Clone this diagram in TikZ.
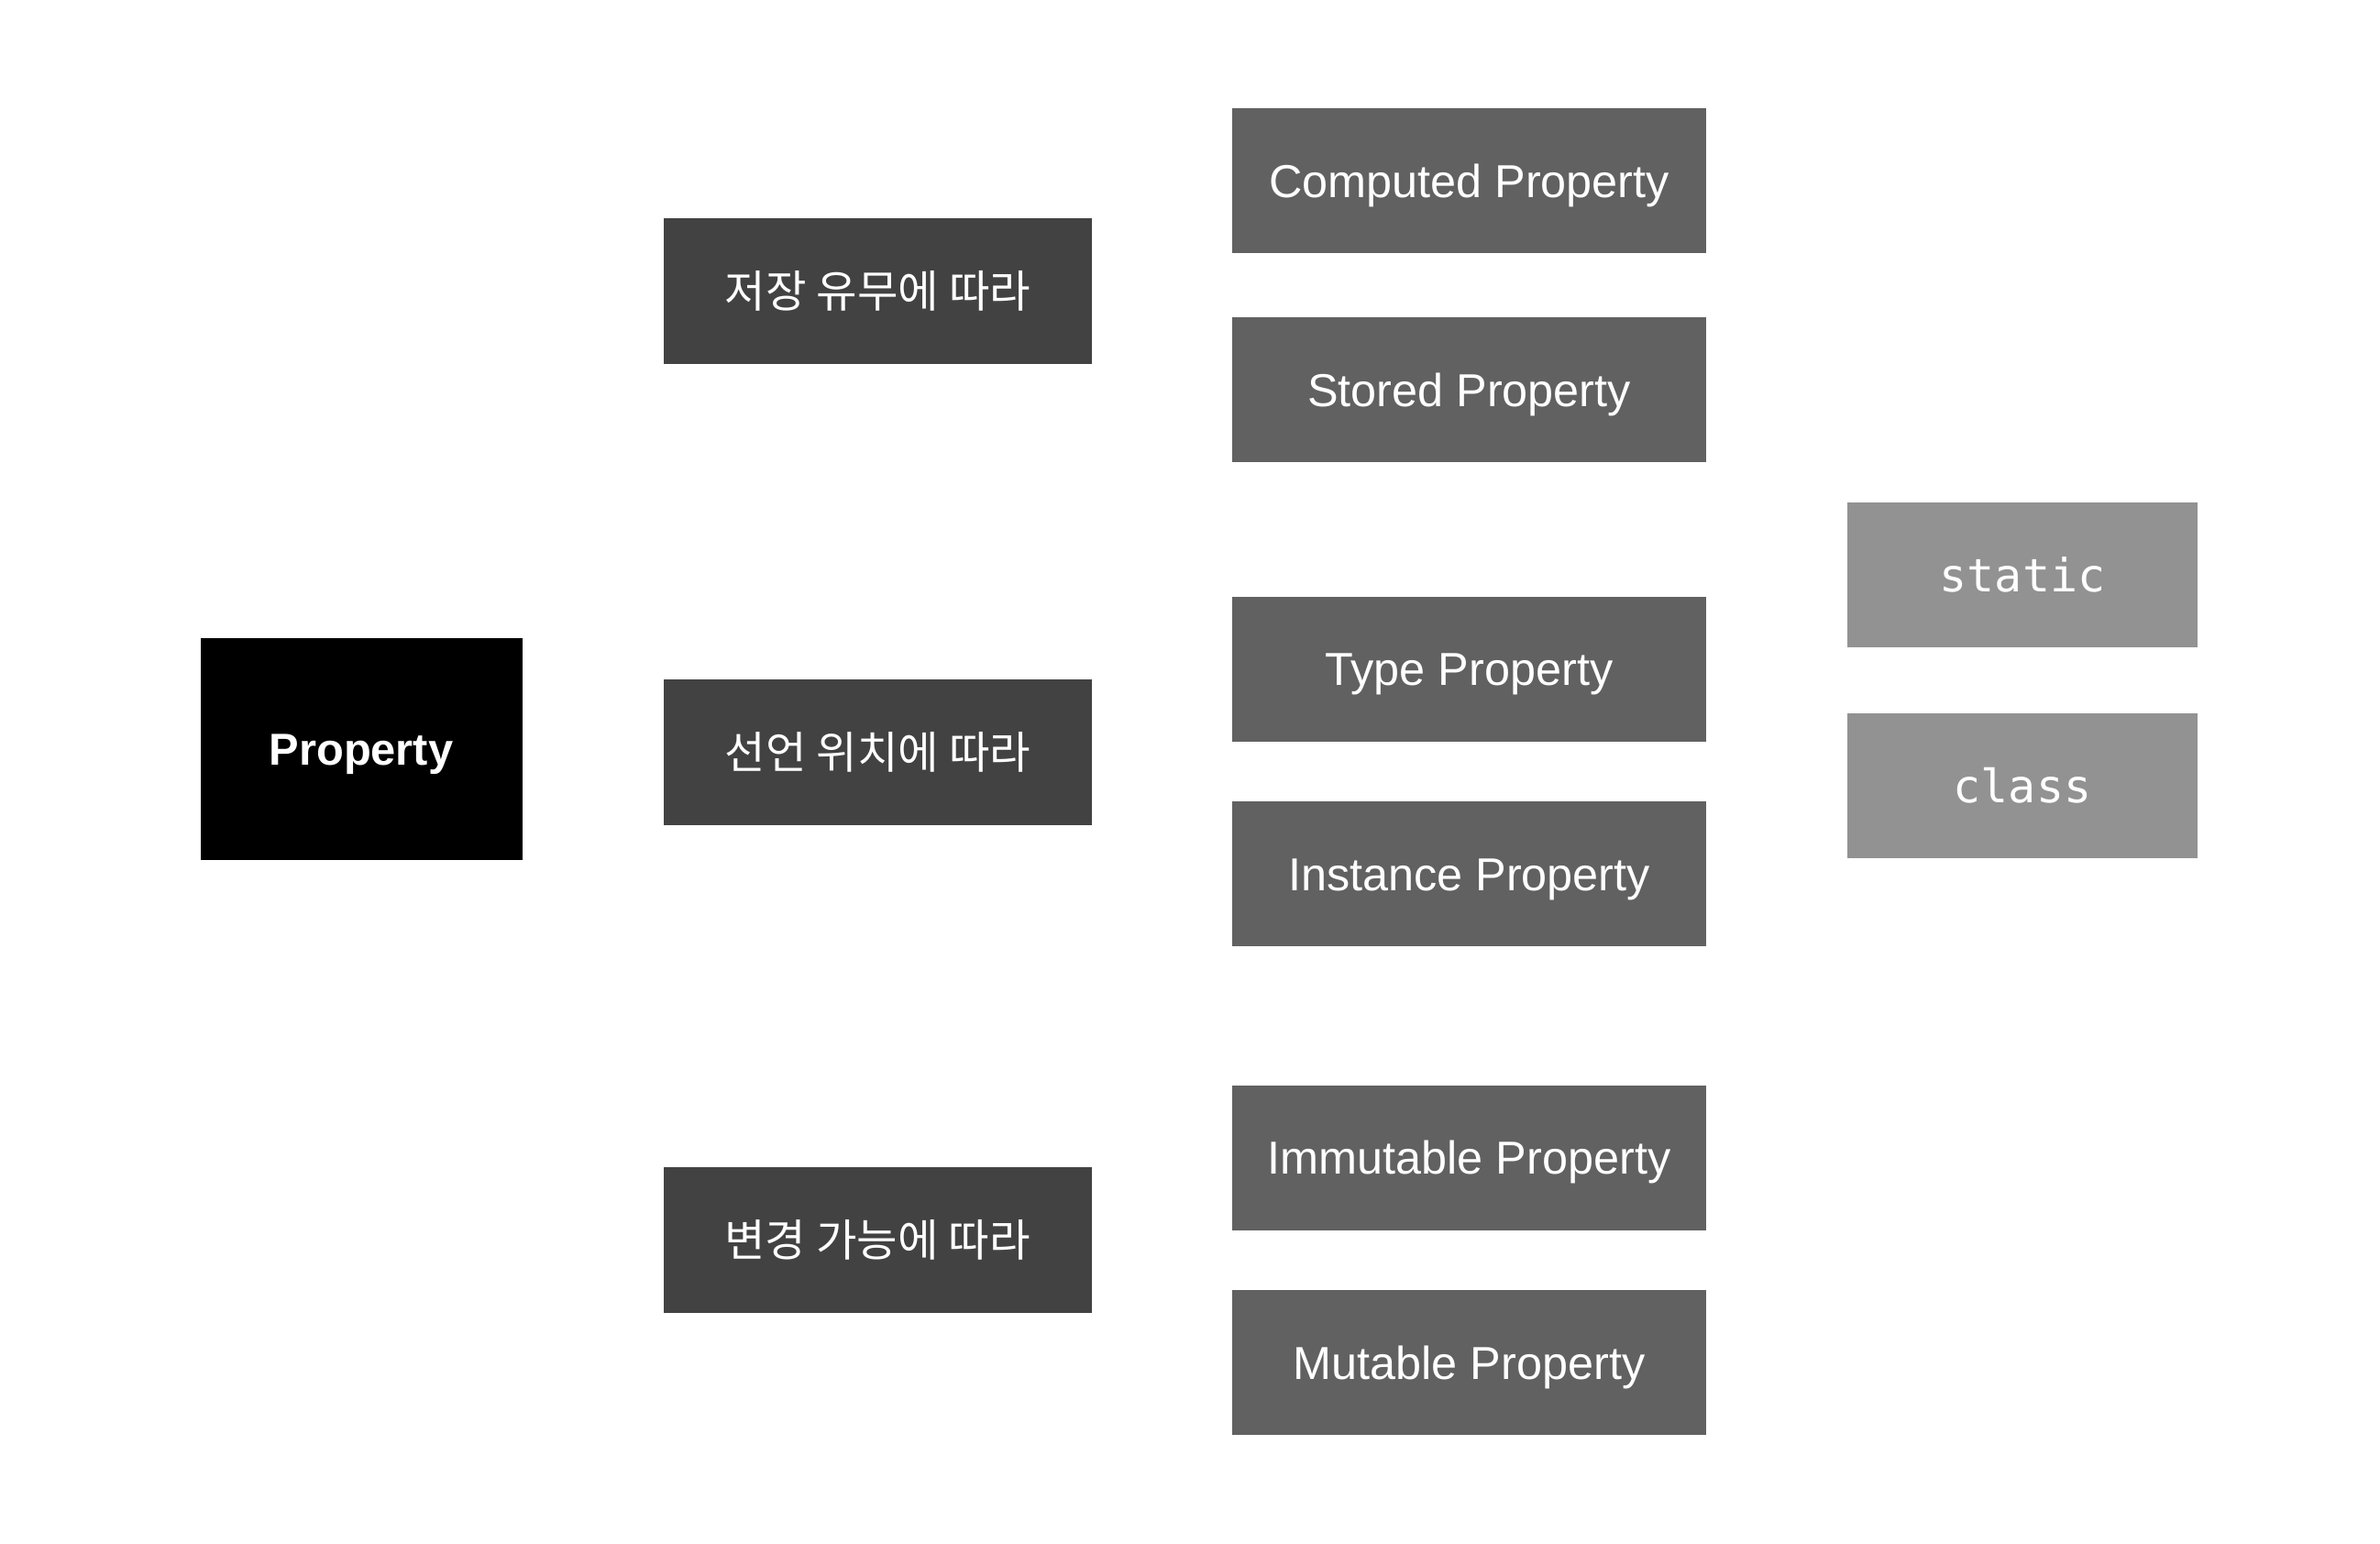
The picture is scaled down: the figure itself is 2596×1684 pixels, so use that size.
\documentclass[tikz,border=0pt]{standalone}
\usepackage{fontspec}
\setmainfont{Liberation Sans}
\newfontfamily\krfont{Noto Sans CJK KR}
\newfontfamily\monofont{DejaVu Sans Mono}
\definecolor{cA}{HTML}{000000}
\definecolor{cB}{HTML}{424242}
\definecolor{cC}{HTML}{616161}
\definecolor{cD}{HTML}{929292}
\begin{document}
\begin{tikzpicture}[x=0.25pt,y=-0.25pt,
  box/.style={rectangle,inner sep=0pt,text=white,draw=none},
  rootbox/.style={box,fill=cA,minimum width=87.75pt,minimum height=60.5pt,text height=8.75pt,text depth=0pt,font=\fontsize{12.2}{14}\selectfont\bfseries},
  catbox/.style={box,fill=cB,minimum width=116.75pt,minimum height=39.75pt,font=\krfont\fontsize{12.1}{14}\selectfont},
  kindbox/.style={box,fill=cC,minimum width=129.25pt,minimum height=39.5pt,text height=9.02pt,text depth=0pt,font=\fontsize{12.6}{15}\selectfont},
  kwbox/.style={box,fill=cD,minimum width=95.5pt,minimum height=39.5pt,font=\monofont\fontsize{12.5}{14}\selectfont}]
\fill[white] (0,0) rectangle (2596,1684);
\useasboundingbox (0,0) rectangle (2596,1684);
\node[rootbox] (prop) at (394,817) {Property};
\node[catbox] (storage) at (957.5,317.5) {저장 유무에 따라};
\node[catbox] (decl) at (957.5,820.5) {선언 위치에 따라};
\node[catbox] (mut) at (957,1352) {변경 가능에 따라};
\node[kindbox] (computed) at (1602.5,197) {Computed Property};
\node[kindbox] (stored) at (1602.5,425) {Stored Property};
\node[kindbox] (type) at (1602.5,729.5) {Type Property};
\node[kindbox] (inst) at (1602.5,953) {Instance Property};
\node[kindbox] (immut) at (1602.5,1262.5) {Immutable Property};
\node[kindbox] (mutable) at (1602.5,1486) {Mutable Property};
\node[kwbox] (static) at (2206,626.5) {static};
\node[kwbox] (class) at (2206,856.5) {class};
\end{tikzpicture}
\end{document}
